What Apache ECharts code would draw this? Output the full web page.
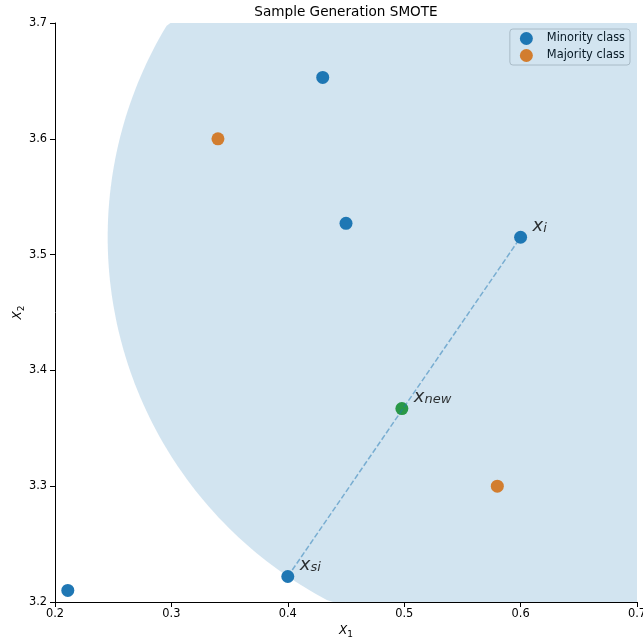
<!DOCTYPE html>
<html>
<head>
<meta charset="utf-8">
<script src="https://cdn.jsdelivr.net/npm/echarts@6/dist/echarts.min.js"></script>
<style>
  html, body { margin: 0; padding: 0; background: #fff; }
  #chart { width: 643px; height: 641px; }
</style>
</head>
<body>
<div id="chart"></div>
<script>
// Minority class samples
const minorityX = [0.211, 0.43, 0.45, 0.6, 0.4];
const minorityY = [3.21, 3.653, 3.527, 3.515, 3.222];
// Majority class samples
const majorityX = [0.34, 0.58];
const majorityY = [3.6, 3.3];
// Selected sample, its chosen neighbour and the synthetic sample
const pointXi = [0.6, 3.515];
const pointXsi = [0.4, 3.222];
const pointXnew = [0.498, 3.367];
// Annotation subscripts
const annotationSubs = ['i', 'si', 'new'];
// Axis ranges and ticks
const xTicks = [0.2, 0.3, 0.4, 0.5, 0.6, 0.7];
const yTicks = [3.2, 3.3, 3.4, 3.5, 3.6, 3.7];

const FONT = 'DejaVu Sans';
const blue = '#1f77b4', orange = '#ff7f0e', green = '#2ca02c';

const chart = echarts.init(document.getElementById('chart'));

const zip = (xs, ys) => xs.map((x, i) => [x, ys[i]]);

// neighbourhood radius: distance from x_i to its neighbour x_si
const radius = Math.hypot(pointXsi[0] - pointXi[0], pointXsi[1] - pointXi[1]);

const mathRich = {
  v: { fontFamily: FONT, fontStyle: 'italic', fontSize: 18, color: '#000', verticalAlign: 'bottom', padding: [0, 0, 0, 0] },
  s: { fontFamily: FONT, fontStyle: 'italic', fontSize: 13, color: '#000', verticalAlign: 'bottom' }
};

const axisNameRich = {
  v: { fontFamily: FONT, fontStyle: 'italic', fontSize: 12, color: '#000', verticalAlign: 'bottom', padding: [0, 0, 2, 0] },
  s: { fontFamily: FONT, fontSize: 9, color: '#000', verticalAlign: 'bottom' }
};

chart.setOption({
  animation: false,
  backgroundColor: '#fff',
  title: {
    text: 'Sample Generation SMOTE',
    left: 346,
    textAlign: 'center',
    top: 5,
    padding: 0,
    textStyle: { fontFamily: FONT, fontSize: 13.6, fontWeight: 'normal', color: '#000' }
  },
  legend: {
    data: ['Minority class', 'Majority class'],
    orient: 'vertical',
    right: 13,
    top: 29,
    icon: 'circle',
    itemWidth: 13,
    itemHeight: 13,
    itemGap: 4,
    padding: [3, 5, 3, 10],
    backgroundColor: 'rgba(255,255,255,0.8)',
    borderColor: '#cccccc',
    borderWidth: 1,
    borderRadius: 3,
    textStyle: { fontFamily: FONT, fontSize: 11.4, color: '#000', padding: [0, 0, 0, 9] }
  },
  grid: { left: 55, right: 6, top: 23, bottom: 39, containLabel: false, outerBoundsMode: 'none' },
  xAxis: {
    type: 'value',
    min: xTicks[0], max: xTicks[xTicks.length - 1], interval: 0.1,
    name: '{v|X}{s|1}',
    nameLocation: 'middle',
    nameGap: 23,
    nameMoveOverlap: false,
    nameTextStyle: { rich: axisNameRich },
    axisLine: { lineStyle: { color: '#000', width: 1 } },
    axisTick: { length: 5, lineStyle: { color: '#000' } },
    axisLabel: { fontFamily: FONT, fontSize: 11.4, color: '#000', margin: 7, formatter: v => v.toFixed(1) },
    splitLine: { show: false }
  },
  yAxis: {
    type: 'value',
    min: yTicks[0], max: yTicks[yTicks.length - 1], interval: 0.1,
    name: '{v|X}{s|2}',
    nameLocation: 'middle',
    nameRotate: 90,
    nameGap: 29,
    nameMoveOverlap: false,
    nameTextStyle: { rich: axisNameRich },
    axisLine: { lineStyle: { color: '#000', width: 1 } },
    axisTick: { length: 5, lineStyle: { color: '#000' } },
    axisLabel: { fontFamily: FONT, fontSize: 11.4, color: '#000', margin: 8, formatter: v => v.toFixed(1) },
    splitLine: { show: false }
  },
  series: [
    {
      name: 'Minority class',
      type: 'scatter',
      z: 2,
      symbolSize: 13,
      itemStyle: { color: blue, opacity: 1 },
      data: zip(minorityX, minorityY)
    },
    {
      name: 'Majority class',
      type: 'scatter',
      z: 2,
      symbolSize: 13,
      itemStyle: { color: orange, opacity: 1 },
      data: zip(majorityX, majorityY)
    },
    {
      name: 'x_new',
      type: 'scatter',
      z: 2,
      symbolSize: 13,
      itemStyle: { color: green, opacity: 1 },
      data: [pointXnew]
    },
    {
      // segment between x_si and x_i along which x_new is sampled
      name: 'segment',
      type: 'line',
      z: 3,
      symbol: 'none',
      lineStyle: { color: blue, opacity: 0.5, width: 1.5, type: [5.5, 2.4] },
      data: [pointXsi, pointXi]
    },
    {
      // translucent neighbourhood disc centred on x_i
      name: 'neighbourhood',
      type: 'custom',
      z: 4,
      silent: true,
      data: [[pointXi[0], pointXi[1], radius]],
      renderItem: function (params, api) {
        const cx = api.value(0), cy = api.value(1), r = api.value(2);
        const cs = params.coordSys;
        const pts = [];
        const n = 360;
        for (let k = 0; k < n; k++) {
          const t = 2 * Math.PI * k / n;
          const p = api.coord([cx + r * Math.cos(t), cy + r * Math.sin(t)]);
          pts.push([
            Math.min(Math.max(p[0], cs.x), cs.x + cs.width),
            Math.min(Math.max(p[1], cs.y), cs.y + cs.height)
          ]);
        }
        return {
          type: 'polygon',
          shape: { points: pts },
          style: { fill: 'rgba(31,119,180,0.2)', stroke: 'none' }
        };
      }
    },
    {
      // text annotations x_i, x_si, x_new
      name: 'annotations',
      type: 'scatter',
      z: 5,
      symbolSize: 0,
      silent: true,
      data: [
        [pointXi[0], pointXi[1], annotationSubs[0]],
        [pointXsi[0], pointXsi[1], annotationSubs[1]],
        [pointXnew[0], pointXnew[1], annotationSubs[2]]
      ],
      label: {
        show: true,
        position: [12, -2],
        align: 'left',
        verticalAlign: 'bottom',
        formatter: p => '{v|x}{s|' + p.value[2] + '}',
        rich: mathRich
      }
    }
  ]
});
</script>
</body>
</html>
